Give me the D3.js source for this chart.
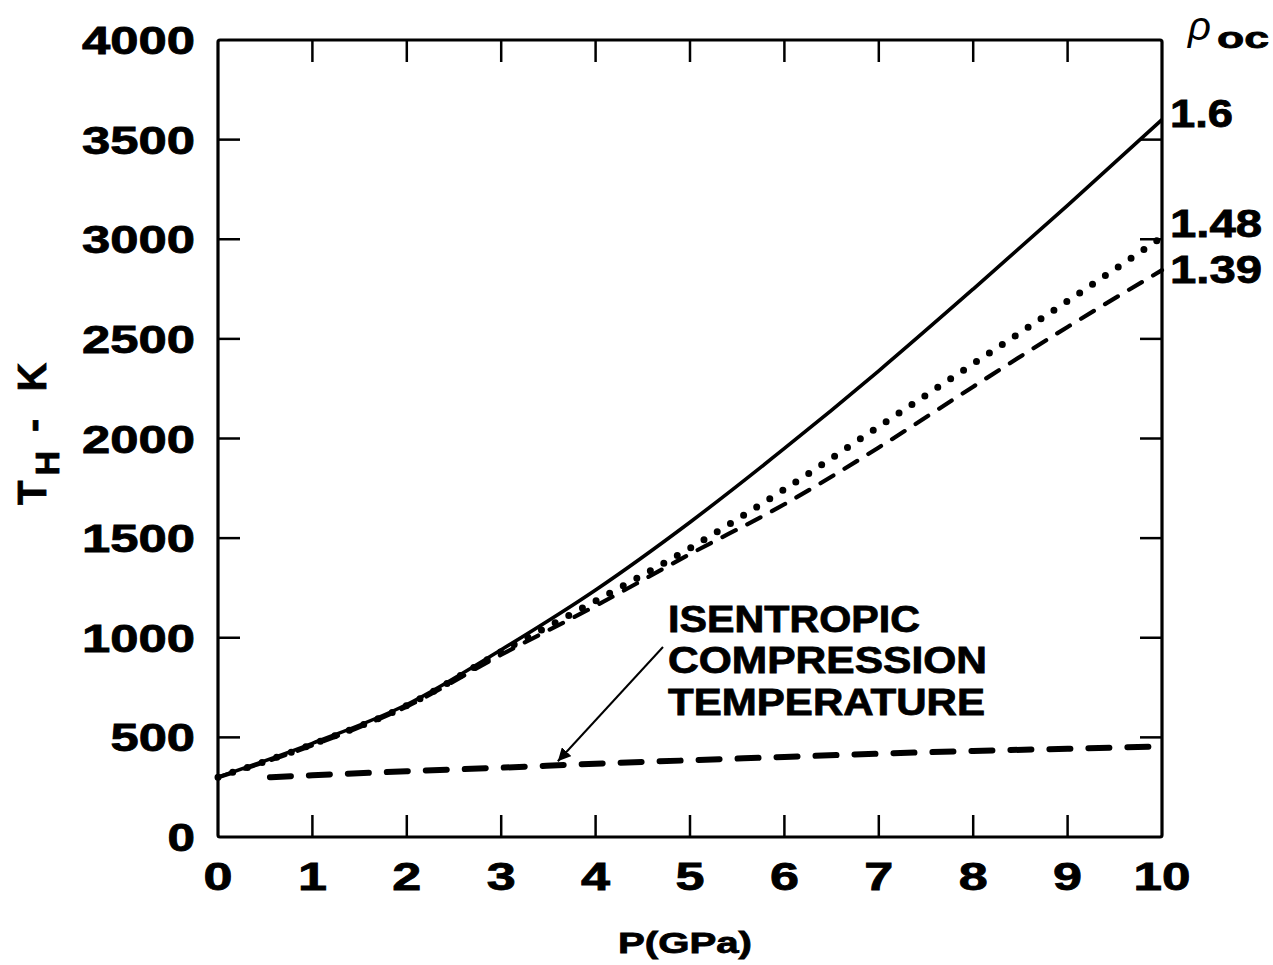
<!DOCTYPE html>
<html><head><meta charset="utf-8">
<script src="https://cdn.jsdelivr.net/npm/d3@7"></script>
<style>body{margin:0;background:#fff}svg{display:block}text.b{stroke:#000;stroke-width:0.8px}</style>
</head><body>
<script>
// ---- data ----
const pressure = [0,1,2,3,4,5,6,7,8,9,10];
const rho160 = [300,470,665,940,1240,1580,1950,2340,2750,3170,3600];
const rho148 = [300,465,660,930,1185,1450,1745,2060,2375,2690,3010];
const rho139 = [300,460,655,915,1160,1420,1670,1955,2260,2560,2845];
const isenP = [0.55,1,2,3,4,5,6,7,8,9,10];
const isenT = [300,310,330,348,368,385,402,418,432,443,455];
const xTicks = [0,1,2,3,4,5,6,7,8,9,10];
const yTicks = [0,500,1000,1500,2000,2500,3000,3500,4000];
const curveLabels = ["1.6","1.48","1.39"];
const annotationLines = ["ISENTROPIC","COMPRESSION","TEMPERATURE"];

const W=1273,H=965;
const L=218,R=1162,T=40,B=837;
const svg=d3.select("body").append("svg").attr("width",W).attr("height",H);
const x=d3.scaleLinear().domain([0,10]).range([L,R]);
const y=d3.scaleLinear().domain([0,4000]).range([B,T]);
const font="'Liberation Sans', Arial, sans-serif";

// frame
svg.append("rect").attr("x",L).attr("y",T).attr("width",R-L).attr("height",B-T)
  .attr("fill","none").attr("stroke","#000").attr("stroke-width",3.2).attr("rx",2);

// ticks
const tl=22;
xTicks.slice(1,-1).forEach(v=>{
  svg.append("line").attr("x1",x(v)).attr("x2",x(v)).attr("y1",B).attr("y2",B-tl).attr("stroke","#000").attr("stroke-width",2.5);
  svg.append("line").attr("x1",x(v)).attr("x2",x(v)).attr("y1",T).attr("y2",T+tl).attr("stroke","#000").attr("stroke-width",2.5);
});
yTicks.slice(1,-1).forEach(v=>{
  svg.append("line").attr("x1",L).attr("x2",L+tl).attr("y1",y(v)).attr("y2",y(v)).attr("stroke","#000").attr("stroke-width",2.5);
  svg.append("line").attr("x1",R).attr("x2",R-tl).attr("y1",y(v)).attr("y2",y(v)).attr("stroke","#000").attr("stroke-width",2.5);
});

// tick labels
xTicks.forEach(v=>{
  const s=String(v);
  svg.append("text").attr("class","b").attr("x",x(v)).attr("y",890).attr("text-anchor","middle")
    .attr("font-family",font).attr("font-weight","bold").attr("font-size",38)
    .attr("textLength",s.length===1?29:57).attr("lengthAdjust","spacingAndGlyphs").text(s);
});
yTicks.forEach(v=>{
  const s=String(v);
  svg.append("text").attr("class","b").attr("x",195).attr("y",y(v)+14).attr("text-anchor","end")
    .attr("font-family",font).attr("font-weight","bold").attr("font-size",38)
    .attr("textLength",s.length*28.5-1).attr("lengthAdjust","spacingAndGlyphs").text(s);
});

// axis titles
svg.append("text").attr("class","b").attr("x",685).attr("y",953).attr("text-anchor","middle")
  .attr("font-family",font).attr("font-weight","bold").attr("font-size",30)
  .attr("textLength",134).attr("lengthAdjust","spacingAndGlyphs").text("P(GPa)");
const yt=svg.append("text").attr("class","b").attr("transform","translate(46,505) rotate(-90)").attr("text-anchor","start")
  .attr("font-family",font).attr("font-weight","bold").attr("font-size",40);
yt.append("tspan").text("T");
yt.append("tspan").attr("font-size",34).attr("dx",5).attr("dy",13).text("H");
yt.append("tspan").attr("dx",8).attr("dy",-13).text(" - ");
yt.append("tspan").attr("dx",16).text("K");

// lines
const line=d3.line().x(d=>x(d[0])).y(d=>y(d[1])).curve(d3.curveMonotoneX);
const g=svg.append("g");
g.append("path").datum(pressure.map((p,i)=>[p,rho139[i]])).attr("d",line)
  .attr("fill","none").attr("stroke","#000").attr("stroke-width",4.2).attr("stroke-linecap","round").attr("stroke-dasharray","15,13");
g.append("path").datum(pressure.map((p,i)=>[p,rho148[i]])).attr("d",line)
  .attr("fill","none").attr("stroke","#000").attr("stroke-width",7).attr("stroke-linecap","round").attr("stroke-dasharray","0,15.5");
g.append("path").datum(pressure.map((p,i)=>[p,rho160[i]])).attr("d",line)
  .attr("fill","none").attr("stroke","#000").attr("stroke-width",3.6);
g.append("path").datum(isenP.map((p,i)=>[p,isenT[i]])).attr("d",line)
  .attr("fill","none").attr("stroke","#000").attr("stroke-width",6).attr("stroke-linecap","round").attr("stroke-dasharray","21,18");

// right labels
curveLabels.forEach((s,i)=>{
  svg.append("text").attr("class","b").attr("x",1170).attr("y",[127,237,283][i]).attr("font-family",font).attr("font-weight","bold")
    .attr("font-size",38).attr("textLength",s.length===3?63:92).attr("lengthAdjust","spacingAndGlyphs").text(s);
});
const rho=svg.append("text").attr("x",1188).attr("y",40).attr("font-family",font);
rho.append("tspan").attr("font-style","italic").attr("font-size",40).text("ρ");
rho.append("tspan").attr("font-weight","bold").attr("font-size",30).attr("stroke","#000").attr("stroke-width",0.8)
  .attr("dx",6).attr("dy",8).attr("textLength",52).attr("lengthAdjust","spacingAndGlyphs").text("oc");

// annotation
const annY=[632,673,715], annW=[252,319,317];
annotationLines.forEach((s,i)=>{
  svg.append("text").attr("class","b").attr("x",668).attr("y",annY[i]).attr("font-family",font).attr("font-weight","bold")
    .attr("font-size",37).attr("textLength",annW[i]).attr("lengthAdjust","spacingAndGlyphs").text(s);
});
svg.append("defs").append("marker").attr("id","ah").attr("viewBox","0 0 10 10").attr("refX",10).attr("refY",5)
  .attr("markerWidth",13).attr("markerHeight",13).attr("markerUnits","userSpaceOnUse").attr("orient","auto")
  .append("path").attr("d","M0,0 L10,5 L0,10 Z").attr("fill","#000");
svg.append("line").attr("x1",663).attr("y1",647).attr("x2",x(3.6)).attr("y2",y(380)).attr("stroke","#000")
  .attr("stroke-width",2).attr("marker-end","url(#ah)");
</script>
</body></html>
